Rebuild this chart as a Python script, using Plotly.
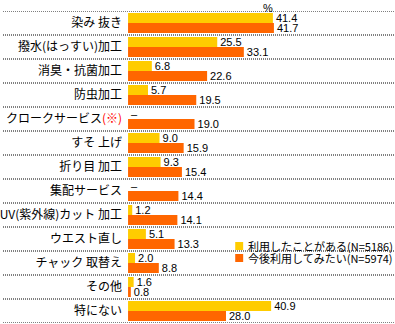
import plotly.graph_objects as go

categories = ["染み 抜き", "撥水(はっすい)加工", "消臭・抗菌加工", "防虫加工", "クロークサービス(※)",
              "すそ 上げ", "折り目 加工", "集配サービス", "UV(紫外線)カット 加工", "ウエスト直し",
              "チャック 取替え", "その他", "特にない"]
tick_labels = ["染み 抜き", "撥水(はっすい)加工", "消臭・抗菌加工", "防虫加工",
               "クロークサービス<span style='color:#FF0000'>(※)</span>",
               "すそ 上げ", "折り目 加工", "集配サービス", "UV(紫外線)カット 加工", "ウエスト直し",
               "チャック 取替え", "その他", "特にない"]
used = [41.4, 25.5, 6.8, 5.7, None, 9.0, 9.3, None, 1.2, 5.1, 2.0, 1.6, 40.9]
future = [41.7, 33.1, 22.6, 19.5, 19.0, 15.9, 15.4, 14.4, 14.1, 13.3, 8.8, 0.8, 28.0]
series_names = ["利用したことがある(N=5186)", "今後利用してみたい(N=5974)"]
colors = ["#FFCC00", "#FF6600"]

W, H = 395, 324
LEFT = 126
TOP = 11
PLOT_H = 312

def fmt(v):
    return "–" if v is None else f"{v:.1f}"

fig = go.Figure()
for vals, name, col in zip([used, future], series_names, colors):
    fig.add_trace(go.Bar(
        y=categories, x=[0 if v is None else v for v in vals], orientation="h",
        name=name, marker=dict(color=col, line=dict(width=0)),
        text=[fmt(v) for v in vals], textposition="outside", constraintext="none",
        cliponaxis=False,
        textfont=dict(family="Liberation Sans, Arial, sans-serif", size=11, color="#000000"),
        showlegend=False,
    ))

shapes = []
for i in range(len(categories) + 1):
    shapes.append(dict(type="line", xref="paper", yref="y", x0=0, x1=1, y0=i - 0.5, y1=i - 0.5,
                       line=dict(color="#000000", width=1, dash="1px,1px"), layer="above"))

def py(pix):
    return (TOP + PLOT_H - pix) / PLOT_H

annotations = [dict(text="%", xref="x", yref="paper", x=40, y=py(0), xanchor="center",
                    yanchor="top", showarrow=False,
                    font=dict(family="Liberation Sans, Arial, sans-serif", size=11, color="#000000"))]
leg_centers = [246, 258]
for name, col, yc in zip(series_names, colors, leg_centers):
    shapes.append(dict(type="rect", xref="paper", yref="paper", x0=234 / W, x1=242 / W,
                       y0=py(yc + 4), y1=py(yc - 4), fillcolor=col, line=dict(width=0),
                       layer="above"))
    annotations.append(dict(
        text=name, xref="paper", yref="paper",
        x=245 / W, y=py(yc), xanchor="left", yanchor="middle", showarrow=False,
        font=dict(family="Noto Sans CJK JP", size=11, color="#000000")))

fig.update_layout(
    width=W, height=H, margin=dict(l=0, r=0, t=TOP, b=H - TOP - PLOT_H, pad=0),
    paper_bgcolor="#FFFFFF", plot_bgcolor="#FFFFFF",
    barmode="group", bargap=4 / 24, bargroupgap=0,
    xaxis=dict(domain=[LEFT / W, 1], range=[0, (W - LEFT) / 3.525], visible=False, fixedrange=True),
    yaxis=dict(type="category", range=[len(categories) - 0.5, -0.5], tickmode="array",
               tickvals=categories, ticktext=tick_labels, showgrid=False, zeroline=False,
               showline=False, ticks="", ticklabelstandoff=5,
               tickfont=dict(family="Noto Sans CJK JP", size=12, color="#000000")),
    shapes=shapes, annotations=annotations, showlegend=False,
)
fig.write_html("out.html")
